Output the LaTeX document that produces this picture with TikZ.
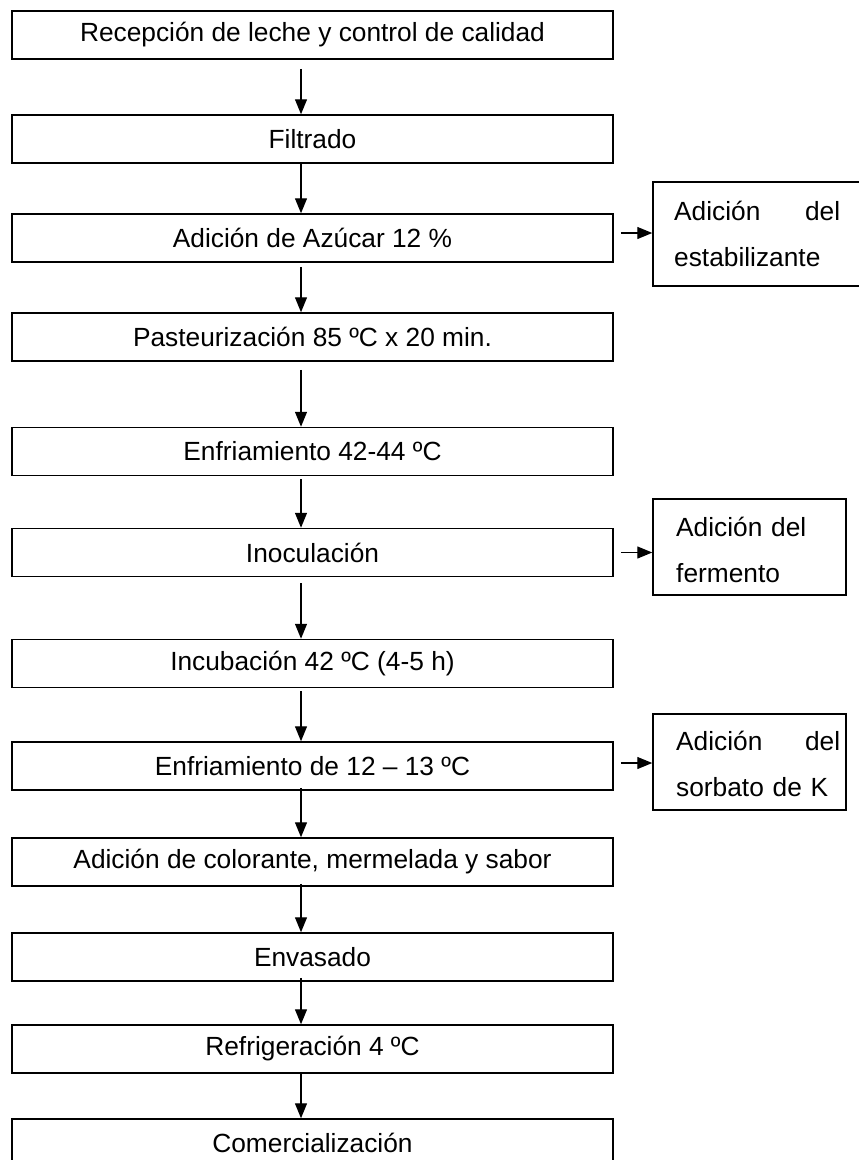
\documentclass[tikz,border=0pt]{standalone}
\usepackage{fontspec}
\setmainfont{Liberation Sans}
\usetikzlibrary{arrows.meta}
\begin{document}
\begin{tikzpicture}[x=1pt,y=-1pt,
  txt/.style={font=\fontsize{26.3}{46}\selectfont},
  mainbox/.style={draw, line width=1.5pt, minimum width=601pt, minimum height=48pt, inner sep=0pt, txt},
  sidebox/.style={draw, line width=1.5pt, inner sep=0pt},
  sidetext/.style={txt, anchor=west, align=left, inner sep=0pt},
  flow/.style={line width=1.3pt, -{Triangle[length=15pt,width=12pt]}}]
\useasboundingbox (0,0) rectangle (859,1160);
\clip (0,0) rectangle (859,1160);
% main steps
\node[mainbox] (b1)  at (312.5,35)    {Recepción de leche y control de calidad};
\node[mainbox] (b2)  at (312.5,139)   {Filtrado};
\node[mainbox] (b3)  at (312.5,238)   {Adición de Azúcar 12 \%};
\node[mainbox] (b4)  at (312.5,337)   {Pasteurización 85 ºC x 20 min.};
\node[mainbox] (b5)  at (312.5,451.5) {Enfriamiento 42-44 ºC};
\node[mainbox] (b6)  at (312.5,552.5) {Inoculación};
\node[mainbox] (b7)  at (312.5,663.5) {Incubación 42 ºC (4-5 h)};
\node[mainbox] (b8)  at (312.5,766)   {Enfriamiento de 12 – 13 ºC};
\node[mainbox] (b9)  at (312.5,862)   {Adición de colorante, mermelada y sabor};
\node[mainbox] (b10) at (312.5,957)   {Envasado};
\node[mainbox] (b11) at (312.5,1049)  {Refrigeración 4 ºC};
\node[mainbox] (b12) at (312.5,1143)  {Comercialización};
% side boxes
\node[sidebox, minimum width=222pt, minimum height=104pt] (s1) at (764,234) {};
\node[sidebox, minimum width=193pt, minimum height=96pt] (s2) at (749.5,547) {};
\node[sidebox, minimum width=193pt, minimum height=96pt] (s3) at (749.5,762) {};
\node[sidetext, text width=166pt] (s1t) at (674,234) {\hbox to 166pt{Adición\hfill del}\\estabilizante};
\node[sidetext, text width=166pt] (s2t) at (676,550) {Adición del\\fermento};
\node[sidetext, text width=166pt] (s3t) at (676,764) {\hbox to 164pt{Adición\hfill del}\\sorbato de K};
% vertical connectors
\draw[flow] ([xshift=-11.5pt,yshift=-9pt]b1.south) -- ([xshift=-11.5pt]b2.north);
\draw[flow] ([xshift=-11.5pt]b2.south) -- ([xshift=-11.5pt]b3.north);
\draw[flow] ([xshift=-11.5pt,yshift=-4pt]b3.south) -- ([xshift=-11.5pt]b4.north);
\draw[flow] ([xshift=-11.5pt,yshift=-8pt]b4.south) -- ([xshift=-11.5pt]b5.north);
\draw[flow] ([xshift=-11.5pt,yshift=-3pt]b5.south) -- ([xshift=-11.5pt]b6.north);
\draw[flow] ([xshift=-11.5pt,yshift=-6pt]b6.south) -- ([xshift=-11.5pt]b7.north);
\draw[flow] ([xshift=-11.5pt,yshift=-3pt]b7.south) -- ([xshift=-11.5pt]b8.north);
\draw[flow] ([xshift=-11.5pt,yshift=3pt]b8.south) -- ([xshift=-11.5pt]b9.north);
\draw[flow] ([xshift=-11.5pt,yshift=3pt]b9.south) -- ([xshift=-11.5pt]b10.north);
\draw[flow] ([xshift=-11.5pt,yshift=4pt]b10.south) -- ([xshift=-11.5pt]b11.north);
\draw[flow] ([xshift=-11.5pt]b11.south) -- ([xshift=-11.5pt]b12.north);
% side connectors
\coordinate (a1) at ([xshift=7pt,yshift=5pt]b3.east);
\coordinate (a2) at ([xshift=7pt]b6.east);
\coordinate (a3) at ([xshift=7pt,yshift=3pt]b8.east);
\draw[flow] (a1) -- (a1 -| s1.west);
\draw[flow] (a2) -- (a2 -| s2.west);
\draw[flow] (a3) -- (a3 -| s3.west);
\end{tikzpicture}
\end{document}
